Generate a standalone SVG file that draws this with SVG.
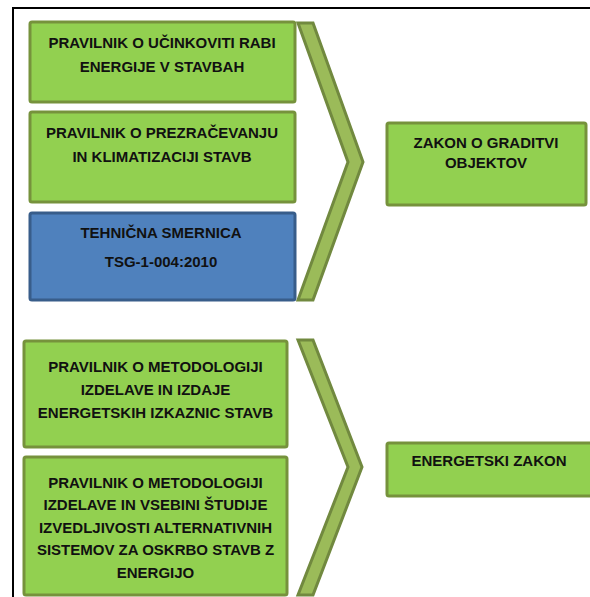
<svg xmlns="http://www.w3.org/2000/svg" width="590" height="597" viewBox="0 0 590 597">
<style>
.g{fill:#92d050;stroke:#76923c;stroke-width:3}
.b{fill:#4f81bd;stroke:#385d8a;stroke-width:3}
.ch{fill:#9bbb59;stroke:#71893f;stroke-width:3;stroke-linejoin:miter}
.t{font-family:"Liberation Sans",Arial,sans-serif;font-weight:bold;font-size:15px;fill:#111;text-anchor:middle}
.frame{stroke:#000;stroke-width:2;fill:none}
</style>
<rect width="590" height="597" fill="#fff"/>
<path class="frame" d="M13,597 V8 H590"/>
<g id="connectors">
<polygon class="ch" points="298,23 313,23 363,162 313,300 298,300 348,162"/>
<polygon class="ch" points="298,340 313,340 362,467 313,595 298,595 348,467"/>
</g>
<g id="n1"><rect class="g" x="30" y="22" width="265" height="80" rx="2"/>
<text class="t" x="162" y="48">PRAVILNIK O UČINKOVITI RABI</text>
<text class="t" x="162" y="72">ENERGIJE V STAVBAH</text></g>
<g id="n2"><rect class="g" x="30" y="112" width="265" height="90" rx="2"/>
<text class="t" x="162" y="138">PRAVILNIK O PREZRAČEVANJU</text>
<text class="t" x="162" y="162">IN KLIMATIZACIJI STAVB</text></g>
<g id="n3"><rect class="b" x="30" y="213" width="265" height="87" rx="2"/>
<text class="t" x="161" y="238">TEHNIČNA SMERNICA</text>
<text class="t" x="161" y="267">TSG-1-004:2010</text></g>
<g id="n4"><rect class="g" x="387" y="123" width="199" height="82" rx="2"/>
<text class="t" x="486" y="148">ZAKON O GRADITVI</text>
<text class="t" x="486" y="168">OBJEKTOV</text></g>
<g id="n5"><rect class="g" x="24" y="341" width="263" height="106" rx="2"/>
<text class="t" x="155.5" y="372">PRAVILNIK O METODOLOGIJI</text>
<text class="t" x="155.5" y="395">IZDELAVE IN IZDAJE</text>
<text class="t" x="155.5" y="418">ENERGETSKIH IZKAZNIC STAVB</text></g>
<g id="n6"><rect class="g" x="24" y="457" width="263" height="138" rx="2"/>
<text class="t" x="155.5" y="488">PRAVILNIK O METODOLOGIJI</text>
<text class="t" x="155.5" y="510">IZDELAVE IN VSEBINI ŠTUDIJE</text>
<text class="t" x="155.5" y="533">IZVEDLJIVOSTI ALTERNATIVNIH</text>
<text class="t" x="155.5" y="555">SISTEMOV ZA OSKRBO STAVB Z</text>
<text class="t" x="155.5" y="578">ENERGIJO</text></g>
<g id="n7"><rect class="g" x="387" y="443" width="210" height="53" rx="2"/>
<text class="t" x="489" y="466">ENERGETSKI ZAKON</text></g>
</svg>
